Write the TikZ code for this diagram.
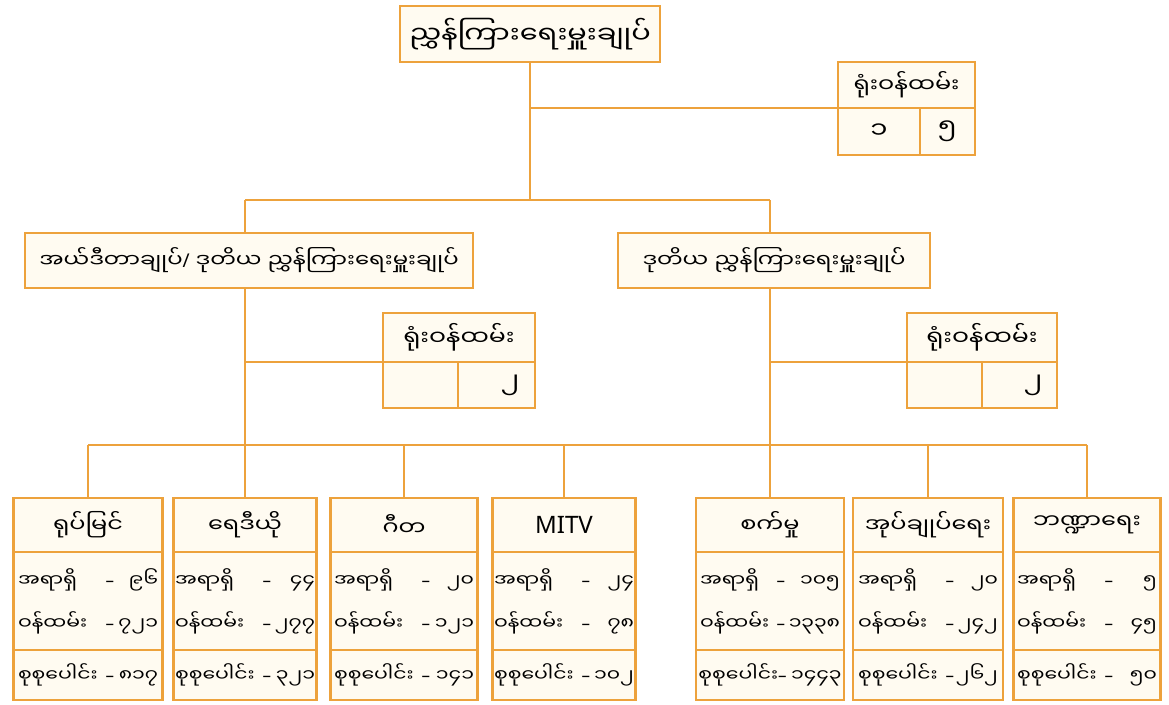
\documentclass[tikz,border=0pt]{standalone}
\usepackage{fontspec}
\setmainfont{Noto Sans}
\newfontfamily\mmfont[Script=Myanmar, FakeStretch=1.2]{Noto Sans Myanmar UI}
\definecolor{boxline}{HTML}{EDA23C}
\definecolor{boxfill}{HTML}{FFFBF1}
% one line of a unit box: label, dash, number
\newcommand\statline[3][39pt]{\makebox[140pt]{#2\hfill{\rmfamily –}\hspace{5pt}\makebox[#1][r]{#3}}}

\begin{document}
\begin{tikzpicture}[x=1pt, y=-1pt,
  box/.style={draw=boxline, line width=2.8pt, fill=boxfill, inner sep=0pt,
    font=\mmfont\fontsize{20}{24}\selectfont},
  stat/.style={box, align=center, font=\mmfont\fontsize{17}{43}\selectfont},
  link/.style={draw=boxline, line width=2.4pt}]
  \useasboundingbox [fill=white] (0,0) rectangle (1169,704);

  % head office
  \node [box, minimum width=260, minimum height=56, font=\mmfont\fontsize{24}{28}\selectfont] (dg) at (530,34) {ညွှန်ကြားရေးမှူးချုပ်};
  \node [box, minimum width=137, minimum height=46, font=\mmfont\fontsize{20}{24}\selectfont] (dgoff) at (906.5,85) {ရုံးဝန်ထမ်း};
  \node [box, minimum width=82, minimum height=47, font=\mmfont\fontsize{23}{26}\selectfont] (dgoffa) at (879,131.5) {၁};
  \node [box, minimum width=55, minimum height=47, font=\mmfont\fontsize{23}{26}\selectfont] (dgoffb) at (947.5,131.5) {၅};

  % deputies
  \node [box, minimum width=448, minimum height=55, font=\mmfont\fontsize{19}{24}\selectfont] (ddgl) at (249,260.5) {အယ်ဒီတာချုပ်{\rmfamily/} ဒုတိယ ညွှန်ကြားရေးမှူးချုပ်};
  \node [box, minimum width=312, minimum height=55, font=\mmfont\fontsize{19}{24}\selectfont] (ddgr) at (774,260.5) {ဒုတိယ ညွှန်ကြားရေးမှူးချုပ်};

  \node [box, minimum width=152, minimum height=49, font=\mmfont\fontsize{21}{24}\selectfont] (offl) at (459,337.5) {ရုံးဝန်ထမ်း};
  \node [box, minimum width=75, minimum height=46] (offla) at (420.5,385) {};
  \node [box, minimum width=77, minimum height=46, font=\mmfont\fontsize{23}{26}\selectfont] (offlb) at (496.5,385) {\makebox[70pt][r]{၂\hspace{12pt}}};
  \node [box, minimum width=150, minimum height=49, font=\mmfont\fontsize{21}{24}\selectfont] (offr) at (982,337.5) {ရုံးဝန်ထမ်း};
  \node [box, minimum width=75, minimum height=46] (offra) at (944.5,385) {};
  \node [box, minimum width=75, minimum height=46, font=\mmfont\fontsize{23}{26}\selectfont] (offrb) at (1019.5,385) {\makebox[70pt][r]{၂\hspace{12pt}}};

  % units
  \node [box, minimum width=149, minimum height=54] (tv) at (88,525) {ရုပ်မြင်};
  \node [stat, minimum width=149, minimum height=98] (tvstat) at (88,601) {\statline{အရာရှိ}{၉၆}\\\statline{ဝန်ထမ်း}{၇၂၁}};
  \node [stat, minimum width=149, minimum height=50] (tvsum) at (88,675) {\statline{စုစုပေါင်း}{၈၁၇}};

  \node [box, minimum width=143, minimum height=54] (radio) at (245,525) {ရေဒီယို};
  \node [stat, minimum width=143, minimum height=98] (radiostat) at (245,601) {\statline{အရာရှိ}{၄၄}\\\statline{ဝန်ထမ်း}{၂၇၇}};
  \node [stat, minimum width=143, minimum height=50] (radiosum) at (245,675) {\statline{စုစုပေါင်း}{၃၂၁}};

  \node [box, minimum width=147, minimum height=54] (music) at (404,525) {ဂီတ};
  \node [stat, minimum width=147, minimum height=98] (musicstat) at (404,601) {\statline{အရာရှိ}{၂၀}\\\statline{ဝန်ထမ်း}{၁၂၁}};
  \node [stat, minimum width=147, minimum height=50] (musicsum) at (404,675) {\statline{စုစုပေါင်း}{၁၄၁}};

  \node [box, minimum width=143, minimum height=54, font=\fontsize{24}{28}\selectfont] (mitv) at (564,525) {MITV};
  \node [stat, minimum width=143, minimum height=98] (mitvstat) at (564,601) {\statline{အရာရှိ}{၂၄}\\\statline{ဝန်ထမ်း}{၇၈}};
  \node [stat, minimum width=143, minimum height=50] (mitvsum) at (564,675) {\statline{စုစုပေါင်း}{၁၀၂}};

  \node [box, minimum width=148, minimum height=54] (eng) at (770,525) {စက်မှု};
  \node [stat, minimum width=148, minimum height=98] (engstat) at (770,601) {\statline[50pt]{အရာရှိ}{၁၀၅}\\\statline[50pt]{ဝန်ထမ်း}{၁၃၃၈}};
  \node [stat, minimum width=148, minimum height=50] (engsum) at (770,675) {\statline[50pt]{စုစုပေါင်း}{၁၄၄၃}};

  \node [box, minimum width=150, minimum height=54] (admin) at (928,525) {အုပ်ချုပ်ရေး};
  \node [stat, minimum width=150, minimum height=98] (adminstat) at (928,601) {\statline{အရာရှိ}{၂၀}\\\statline{ဝန်ထမ်း}{၂၄၂}};
  \node [stat, minimum width=150, minimum height=50] (adminsum) at (928,675) {\statline{စုစုပေါင်း}{၂၆၂}};

  \node [box, minimum width=147, minimum height=54] (fin) at (1087,525) {ဘဏ္ဍာရေး};
  \node [stat, minimum width=147, minimum height=98] (finstat) at (1087,601) {\statline{အရာရှိ}{၅}\\\statline{ဝန်ထမ်း}{၄၅}};
  \node [stat, minimum width=147, minimum height=50] (finsum) at (1087,675) {\statline{စုစုပေါင်း}{၅၀}};

  % junctions
  \coordinate (dgj) at (530,108);
  \coordinate (barl) at (245,200);
  \coordinate (barr) at (770,200);
  \coordinate (offlj) at (245,362);
  \coordinate (offrj) at (770,362);
  \coordinate (lowl) at (88,445);
  \coordinate (lowr) at (1087,445);

  \draw [link] (dg.south) -- (dg.south |- barl);
  \draw [link] (dgj) -- (dgj -| dgoff.west);
  \draw [link] (barl) -- (barr);
  \draw [link] (barl) -- (barl |- ddgl.north);
  \draw [link] (barr) -- (barr |- ddgr.north);
  \draw [link] (barl |- ddgl.south) -- (radio.north);
  \draw [link] (barr |- ddgr.south) -- (eng.north);
  \draw [link] (offlj) -- (offlj -| offl.west);
  \draw [link] (offrj) -- (offrj -| offr.west);
  \draw [link] (lowl) -- (lowr);
  \draw [link] (lowl) -- (tv.north);
  \draw [link] (lowl -| music) -- (music.north);
  \draw [link] (lowl -| mitv) -- (mitv.north);
  \draw [link] (lowl -| admin) -- (admin.north);
  \draw [link] (lowr) -- (fin.north);
\end{tikzpicture}
\end{document}
